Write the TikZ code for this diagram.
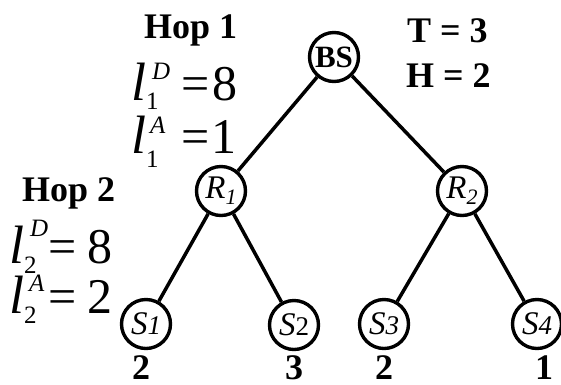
\documentclass[tikz,border=0pt]{standalone}
\usepackage{fontspec}
\setmainfont{Liberation Serif}
\begin{document}
\begin{tikzpicture}[x=1pt,y=-1pt,
  vtx/.style={circle,draw,line width=3.4pt,minimum size=49pt,inner sep=0pt},
  edge/.style={line width=3.5pt},
  hop/.style={font=\fontsize{36}{36}\selectfont\bfseries,anchor=base west,inner sep=0pt},
  big/.style={font=\fontsize{50}{50}\selectfont,anchor=base west,inner sep=0pt},
  bigit/.style={font=\fontsize{54}{54}\selectfont\itshape,anchor=base west,inner sep=0pt},
  scr/.style={font=\fontsize{25}{25}\selectfont,anchor=base west,inner sep=0pt},
  scrit/.style={font=\fontsize{25}{25}\selectfont\itshape,anchor=base west,inner sep=0pt},
  cnt/.style={font=\fontsize{36}{36}\selectfont\bfseries,anchor=base,inner sep=0pt}]
\useasboundingbox (0,0) rectangle (561,384);
% tree nodes
\node[vtx,font=\fontsize{31}{31}\selectfont\bfseries] (BS) at (334,57) {BS};
\node[vtx,font=\fontsize{33}{33}\selectfont\itshape] (R1) at (221,191) {R\raisebox{-6pt}{\fontsize{22}{22}\selectfont 1}};
\node[vtx,font=\fontsize{33}{33}\selectfont\itshape] (R2) at (462,191) {R\raisebox{-6pt}{\fontsize{22}{22}\selectfont 2}};
\node[vtx,font=\fontsize{33}{33}\selectfont\itshape] (S1) at (146,324) {S{\fontsize{27}{27}\selectfont 1}};
\node[vtx,font=\fontsize{33}{33}\selectfont\itshape] (S2) at (294,325) {S{\fontsize{27}{27}\selectfont\upshape 2}};
\node[vtx,font=\fontsize{33}{33}\selectfont\itshape] (S3) at (384,324) {S{\fontsize{27}{27}\selectfont 3}};
\node[vtx,font=\fontsize{33}{33}\selectfont\itshape] (S4) at (537,324) {S{\fontsize{27}{27}\selectfont 4}};
% edges
\draw[edge] (BS) -- (R1);
\draw[edge] (BS) -- (R2);
\draw[edge] (R1) -- (S1);
\draw[edge] (R1) -- (S2);
\draw[edge] (R2) -- (S3);
\draw[edge] (R2) -- (S4);
% counts
\node[cnt] (c1) at (141,379) {2};
\node[cnt] (c2) at (294,379) {3};
\node[cnt] (c3) at (384,379) {2};
\node[cnt] (c4) at (544,379) {1};
% T and H
\node[hop] (T) at (407,42) {T = 3};
\node[hop] (H) at (406,87) {H = 2};
% Hop 1
\node[hop] (hop1) at (144,38) {Hop 1};
\node[bigit] (l1) at (131,100) {l};
\node[scrit] (l1D) at (152,79) {D};
\node[scr] (l1Ds) at (146,109) {1};
\node[big] (l1Deq) at (181,100) {=};
\node[big] (l1Dv) at (212,100) {8};
\node[bigit] (l2) at (131,153) {l};
\node[scrit] (l1A) at (150,133) {A};
\node[scr] (l1As) at (146,167) {1};
\node[big] (l1Aeq) at (181,153) {=};
\node[big] (l1Av) at (211.5,153) {1};
% Hop 2
\node[hop] (hop2) at (22,201) {Hop 2};
\node[bigit] (l3) at (9,263) {l};
\node[scrit] (l2D) at (30,236) {D};
\node[scr] (l2Ds) at (24,273) {2};
\node[big] (l2Deq) at (48,263) {=};
\node[big] (l2Dv) at (87,263) {8};
\node[bigit] (l4) at (9,313) {l};
\node[scrit] (l2A) at (29,291) {A};
\node[scr] (l2As) at (24,323) {2};
\node[big] (l2Aeq) at (48,313) {=};
\node[big] (l2Av) at (87,313) {2};
\end{tikzpicture}
\end{document}
